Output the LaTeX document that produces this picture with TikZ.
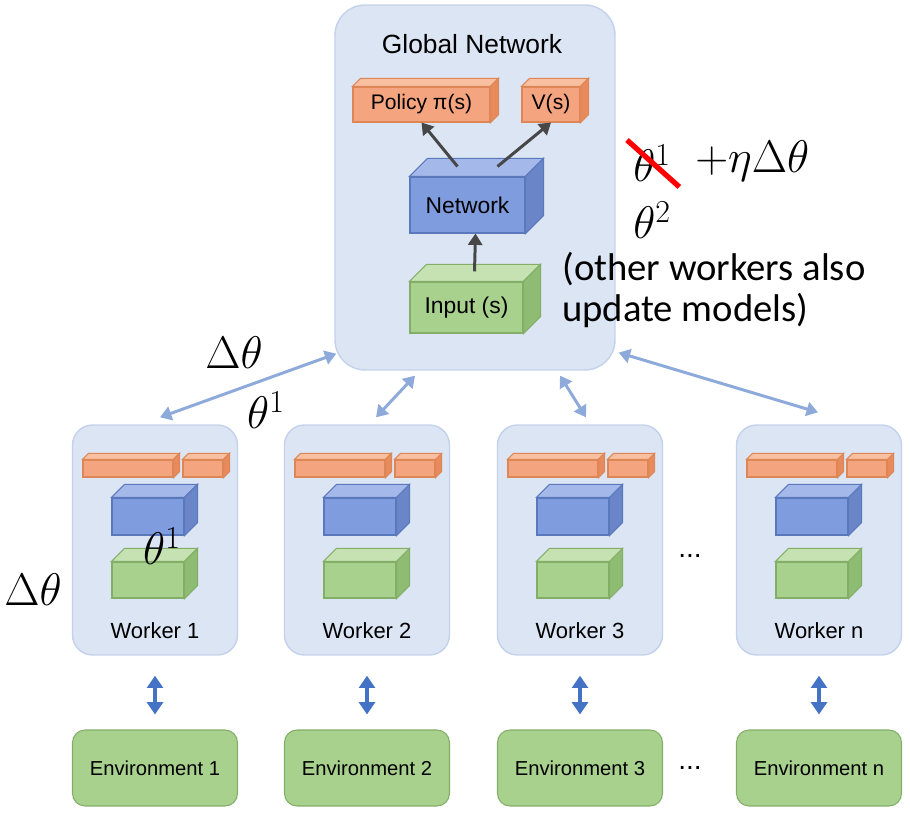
\documentclass[tikz,border=0pt]{standalone}
\usepackage{fix-cm}
\usepackage{fontspec}
\setmainfont{Liberation Sans}
\newfontfamily\calibri{Carlito}
\usetikzlibrary{arrows.meta,calc}

\definecolor{globfill}{HTML}{DCE5F4}
\definecolor{globline}{HTML}{C3D2EB}
\definecolor{poltop}{HTML}{F8C0A0}
\definecolor{polfront}{HTML}{F4A47E}
\definecolor{polside}{HTML}{E98A5D}
\definecolor{polline}{HTML}{DD8656}
\definecolor{nettop}{HTML}{A4B8EA}
\definecolor{netfront}{HTML}{7F9DDE}
\definecolor{netside}{HTML}{6A86C8}
\definecolor{netline}{HTML}{5A78BC}
\definecolor{inptop}{HTML}{C6E2B2}
\definecolor{inpfront}{HTML}{A9D18E}
\definecolor{inpside}{HTML}{8EBC72}
\definecolor{inpline}{HTML}{82AE67}
\definecolor{syncblue}{HTML}{8EAADB}
\definecolor{envblue}{HTML}{4472C4}

% top and side faces of a box whose front face is a node
\newcommand{\boxfaces}[3]{%
  \filldraw[fill=#3top, draw=#3line, line width=0.6pt] (#1.north west) -- ++(#2,-#2) -- ($(#1.north east)+(#2,-#2)$) -- (#1.north east) -- cycle;
  \filldraw[fill=#3side, draw=#3line, line width=0.6pt] (#1.north east) -- ++(#2,-#2) -- ($(#1.south east)+(#2,-#2)$) -- (#1.south east) -- cycle;
}

\begin{document}
\begin{tikzpicture}[x=0.02cm, y=-0.02cm,
	panel/.style={draw=globline, fill=globfill, line width=0.8pt},
	front/.style={draw=#1line, fill=#1front, line width=0.6pt, inner sep=0pt},
	envbox/.style={draw=inpline, fill=inpfront, line width=0.6pt, rounded corners=0.25cm, minimum width=3.3cm, minimum height=1.52cm, font=\fontsize{11.5}{13}\selectfont},
	sync/.style={draw=syncblue, line width=1.7pt, {Triangle[width=8pt,length=6.5pt]}-{Triangle[width=8pt,length=6.5pt]}},
	act/.style={draw=envblue, line width=2.2pt, {Triangle[width=9pt,length=7pt]}-{Triangle[width=9pt,length=7pt]}, shorten <=0.4cm, shorten >=0.3cm},
	flow/.style={draw=black!72, line width=1.7pt, -{Triangle[width=8pt,length=6.5pt]}},
	big/.style={font=\fontsize{26}{30}\selectfont, inner sep=0pt}]
	\useasboundingbox (0,0) rectangle (910,813);

	% global network
	\node[panel, rounded corners=0.6cm, minimum width=5.6cm, minimum height=7.3cm] (global) at (475,187.5) {};
	\node[font=\fontsize{15}{17}\selectfont] (title) at (472,44) {Global Network};

	\node[front=pol, minimum width=2.74cm, minimum height=0.7cm, font=\fontsize{12}{14}\selectfont] (policy) at (421.5,104.5) {Policy π(s)};
	\boxfaces{policy}{8}{pol}
	\node[front=pol, minimum width=1.16cm, minimum height=0.7cm, font=\fontsize{12}{14}\selectfont] (vs) at (551,104.5) {V(s)};
	\boxfaces{vs}{8}{pol}
	\node[front=net, minimum width=2.3cm, minimum height=1.12cm, font=\fontsize{13}{15}\selectfont] (net) at (467.5,205) {Network};
	\boxfaces{net}{18}{net}
	\node[front=inp, minimum width=2.26cm, minimum height=1.02cm, font=\fontsize{13}{15}\selectfont] (inp) at (466.5,307.5) {Input (s)};
	\boxfaces{inp}{17}{inp}

	\draw[flow] ($(net.north)+(-10,-10)$) -- (policy.south);
	\draw[flow] ($(net.north)+(30,-10)$) -- (vs.south);
	\draw[flow] ($(inp.north)+(8,-10)$) -- ($(net.south)+(8,0)$);

	% workers and environments
	\foreach \x/\i in {155/1, 367/2, 580/3, 819/n} {
		\node[panel, rounded corners=0.4cm, minimum width=3.3cm, minimum height=4.6cm] (w\i) at (\x,540) {};
		\node[front=pol, minimum width=1.8cm, minimum height=0.34cm] (bl\i) at ({\x-27},468.5) {};
		\boxfaces{bl\i}{6}{pol}
		\node[front=pol, minimum width=0.8cm, minimum height=0.34cm] (br\i) at ({\x+48},468.5) {};
		\boxfaces{br\i}{6}{pol}
		\node[front=net, minimum width=1.44cm, minimum height=0.74cm] (bn\i) at ({\x-7},516.5) {};
		\boxfaces{bn\i}{13}{net}
		\node[front=inp, minimum width=1.44cm, minimum height=0.72cm] (bi\i) at ({\x-7},580) {};
		\boxfaces{bi\i}{13}{inp}
		\node[font=\fontsize{12.5}{14}\selectfont] (wl\i) at (\x,631) {Worker \i};
		\node[envbox] (e\i) at (\x,768) {Environment \i};
		\draw[act] (w\i) -- (e\i);
	}
	\node[font=\fontsize{16}{16}\selectfont] (dw) at (690,556) {...};
	\node[font=\fontsize{16}{16}\selectfont] (de) at (690,768) {...};

	\draw[sync] ($(global.south west)+(2,-17)$) -- ($(w1.north)+(5,-7)$);
	\draw[sync] ($(global.south)+(-60,5)$) -- ($(w2.north)+(9,-7)$);
	\draw[sync] ($(global.south)+(85,5)$) -- ($(w3.north)+(6,-7)$);
	\draw[sync] ($(global.south east)+(3,-18)$) -- ($(wn.north)+(-1,-12)$);

	% annotations
	\node[big] (dt1) at (234,353) {$\Delta\theta$};
	\node[big] (th1) at (266,410) {$\theta^1$};
	\node[big] (dt2) at (33,590) {$\Delta\theta$};
	\node[big] (th2) at (162,546) {$\theta^1$};
	\node[big, anchor=west] (old) at (633,163) {$\theta^1$};
	\node[big, anchor=west] (upd) at (695,161) {$+\eta\Delta\theta$};
	\draw[red, line width=3pt] ($(old.north west)+(-6,-4)$) -- ($(old.south east)+(8,5)$);
	\node[big, anchor=west] (new) at (633,220) {$\theta^2$};
	\node[anchor=west, align=left, inner sep=0pt, font=\calibri\fontsize{22}{23}\selectfont] (note) at (562,290) {(other workers also\\update models)};
\end{tikzpicture}
\end{document}
